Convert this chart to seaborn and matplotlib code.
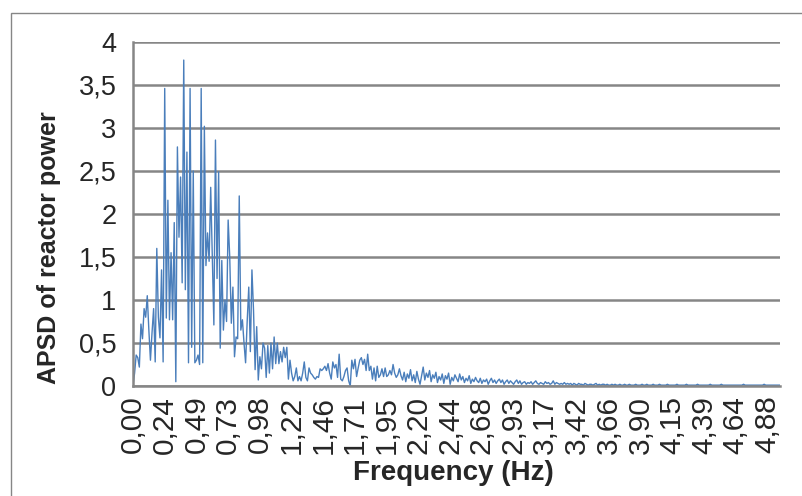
import matplotlib
matplotlib.use("Agg")
import matplotlib.pyplot as plt
import seaborn as sns
import pandas as pd
from matplotlib import font_manager as fm
from matplotlib.patches import Rectangle

# Frequency resolution of the spectrum (Hz per bin)
FREQ_STEP_HZ = 0.0122

# APSD values, bin by bin, split by frequency band
apsd_000_024 = [0.01, 0.15, 0.36, 0.33, 0.22, 0.72, 0.55, 0.90, 0.80, 1.05,
                0.65, 0.30, 0.62, 0.90, 0.28, 1.60, 0.80, 0.56, 1.35, 0.28]
apsd_024_049 = [3.46, 0.79, 2.16, 0.77, 1.55, 0.77, 1.90, 0.05, 2.78, 1.73,
                2.43, 1.20, 3.79, 1.12, 2.72, 0.27, 3.46, 0.45, 2.50, 0.27]
apsd_049_073 = [0.30, 0.36, 0.25, 3.46, 0.27, 3.02, 1.40, 1.78, 1.45, 2.31,
                1.50, 0.71, 2.86, 1.25, 2.49, 0.44, 1.46, 0.65, 1.00, 0.75]
apsd_073_100 = [1.93, 1.50, 0.73, 1.15, 0.34, 0.57, 0.55, 2.21, 0.65, 0.77,
                0.50, 0.27, 0.75, 1.15, 0.40, 1.35, 0.88, 0.19, 0.69, 0.07,
                0.34, 0.20, 0.50]
apsd_100_205 = [0.44, 0.10, 0.47, 0.15, 0.50, 0.20, 0.57, 0.26, 0.50, 0.26,
                0.40, 0.28, 0.45, 0.33, 0.45, 0.08, 0.30, 0.15, 0.06, 0.11,
                0.21, 0.06, 0.11, 0.06, 0.15, 0.28, 0.10, 0.06, 0.21, 0.15,
                0.13, 0.10, 0.08, 0.11, 0.10, 0.20, 0.18, 0.20, 0.23, 0.18,
                0.26, 0.15, 0.08, 0.28, 0.21, 0.25, 0.10, 0.37, 0.08, 0.06,
                0.11, 0.18, 0.21, 0.06, 0.00, 0.30, 0.20, 0.31, 0.11, 0.21,
                0.30, 0.33, 0.25, 0.31, 0.18, 0.37, 0.18, 0.23, 0.08, 0.21,
                0.06, 0.23, 0.10, 0.13, 0.20, 0.11, 0.21, 0.11, 0.13, 0.18,
                0.13, 0.25, 0.15, 0.10, 0.13, 0.20]
apsd_205_375 = [0.12, 0.07, 0.16, 0.05, 0.14, 0.09, 0.19, 0.06, 0.13, 0.04,
                0.17, 0.08, 0.02, 0.12, 0.22, 0.07, 0.15, 0.10, 0.18, 0.05,
                0.13, 0.09, 0.16, 0.04, 0.11, 0.07, 0.14, 0.03, 0.12, 0.08,
                0.15, 0.02, 0.10, 0.06, 0.13, 0.09, 0.05, 0.14, 0.07, 0.11,
                0.04, 0.09, 0.06, 0.12, 0.03, 0.08, 0.05, 0.10, 0.06, 0.04,
                0.09, 0.03, 0.07, 0.05, 0.08, 0.02, 0.06, 0.09, 0.04, 0.07,
                0.03, 0.06, 0.08, 0.04, 0.07, 0.02, 0.05, 0.07, 0.03, 0.06,
                0.04, 0.02, 0.05, 0.07, 0.03, 0.06, 0.02, 0.04, 0.05, 0.02,
                0.04, 0.03, 0.05, 0.02, 0.04, 0.06, 0.03, 0.02, 0.04, 0.03,
                0.02, 0.05, 0.03, 0.04, 0.02, 0.03, 0.06, 0.02, 0.04, 0.03,
                0.02, 0.03, 0.02, 0.04, 0.02, 0.03, 0.02, 0.03, 0.01, 0.03,
                0.02, 0.01, 0.03, 0.02, 0.02, 0.01, 0.03, 0.02, 0.01, 0.02,
                0.02, 0.01, 0.02, 0.03, 0.01, 0.02, 0.01, 0.02, 0.02, 0.01,
                0.02, 0.01, 0.01, 0.02, 0.01, 0.02, 0.01, 0.01, 0.02, 0.01]
apsd_375_500 = [0.01, 0.02, 0.01, 0.01, 0.02, 0.01, 0.01, 0.01, 0.02, 0.01,
                0.01, 0.01, 0.02, 0.01, 0.01, 0.02, 0.01, 0.01, 0.01, 0.02,
                0.01, 0.01, 0.01, 0.02, 0.01, 0.01, 0.01, 0.01, 0.02, 0.01,
                0.01, 0.01, 0.01, 0.01, 0.02, 0.01, 0.01, 0.01, 0.01, 0.01,
                0.02, 0.01, 0.01, 0.01, 0.01, 0.01, 0.01, 0.02, 0.01, 0.01,
                0.01, 0.01, 0.01, 0.01, 0.01, 0.02, 0.01, 0.01, 0.01, 0.01,
                0.01, 0.01, 0.02, 0.01, 0.01, 0.01, 0.01, 0.01, 0.01, 0.01,
                0.01, 0.01, 0.01, 0.01, 0.01, 0.01, 0.02, 0.01, 0.01, 0.01,
                0.01, 0.01, 0.01, 0.01, 0.01, 0.01, 0.01, 0.01, 0.01, 0.02,
                0.01, 0.01, 0.01, 0.01, 0.01, 0.01, 0.01, 0.01, 0.01, 0.01]

apsd = (apsd_000_024 + apsd_024_049 + apsd_049_073 + apsd_073_100
        + apsd_100_205 + apsd_205_375 + apsd_375_500)
freq = [round(i * FREQ_STEP_HZ, 4) for i in range(len(apsd))]

# Category axis labels, one every 20 bins
x_tick_labels = ["0,00", "0,24", "0,49", "0,73", "0,98", "1,22", "1,46",
                 "1,71", "1,95", "2,20", "2,44", "2,68", "2,93", "3,17",
                 "3,42", "3,66", "3,90", "4,15", "4,39", "4,64", "4,88"]
LABEL_EVERY = 20
y_ticks = [0, 0.5, 1, 1.5, 2, 2.5, 3, 3.5, 4]
y_tick_labels = ["0", "0,5", "1", "1,5", "2", "2,5", "3", "3,5", "4"]

df = pd.DataFrame({"freq": freq, "apsd": apsd})

sns.set_style("white")
SANS = ["Liberation Sans", "DejaVu Sans"]
plt.rcParams["font.family"] = SANS


def has_narrow(weight="normal"):
    try:
        path = fm.findfont(fm.FontProperties(family="Liberation Sans Narrow", weight=weight),
                           fallback_to_default=False)
    except ValueError:
        return False
    return "narrow" in path.lower()


HAVE_NARROW = has_narrow()
HAVE_NARROW_BOLD = has_narrow("bold")

GRID = "#868686"
LINE = "#4A7EBB"

W, H = 803, 496
fig = plt.figure(figsize=(W / 100, H / 100), dpi=100)
fig.patch.set_facecolor("white")

# chart-area frame
fig.patches.append(Rectangle((11 / W, -0.1), 1.2, 1 - 13 / H + 0.1,
                             transform=fig.transFigure, fill=False,
                             edgecolor=GRID, linewidth=1.0))

left, right, top, bottom = 133, 780, 42, 386
ax = fig.add_axes([left / W, 1 - bottom / H, (right - left) / W, (bottom - top) / H])

sns.lineplot(data=df, x="freq", y="apsd", ax=ax, color=LINE, linewidth=1.0)

ax.set_xlim(freq[0], freq[-1])
ax.set_ylim(0, 4)
ax.set_yticks(y_ticks)
ax.set_xticks([freq[i * LABEL_EVERY] for i in range(len(x_tick_labels))])
ax.set_xticklabels(x_tick_labels, rotation=90, fontsize=21.5, family=SANS)

if HAVE_NARROW:
    ax.set_yticklabels(y_tick_labels, fontsize=21,
                       family=["Liberation Sans Narrow"] + SANS)
else:
    ax.set_yticklabels(y_tick_labels, fontsize=19.5, family=SANS)

ax.tick_params(axis="both", length=0)
ax.tick_params(axis="y", pad=12)
ax.tick_params(axis="x", pad=7)

ax.grid(axis="y", color=GRID, linewidth=1.8)
ax.grid(axis="x", visible=False)
ax.set_axisbelow(True)
for side in ("top", "right"):
    ax.spines[side].set_visible(False)
for side in ("left", "bottom"):
    ax.spines[side].set_color(GRID)
    ax.spines[side].set_linewidth(1.8)

if HAVE_NARROW_BOLD:
    ax.set_xlabel("Frequency (Hz)", fontsize=22.5, fontweight="bold",
                  family=["Liberation Sans Narrow"] + SANS)
else:
    ax.set_xlabel("Frequency (Hz)", fontsize=20, fontweight="bold", family=SANS)
ax.xaxis.set_label_coords((453 - left) / (right - left), (bottom - 460) / (bottom - top))

ax.set_ylabel("APSD of reactor power", fontsize=18, fontweight="bold", family=SANS)
ax.yaxis.set_label_coords((61 - left) / (right - left), (bottom - 248) / (bottom - top))

fig.savefig("out.png", dpi=100, facecolor="white")
